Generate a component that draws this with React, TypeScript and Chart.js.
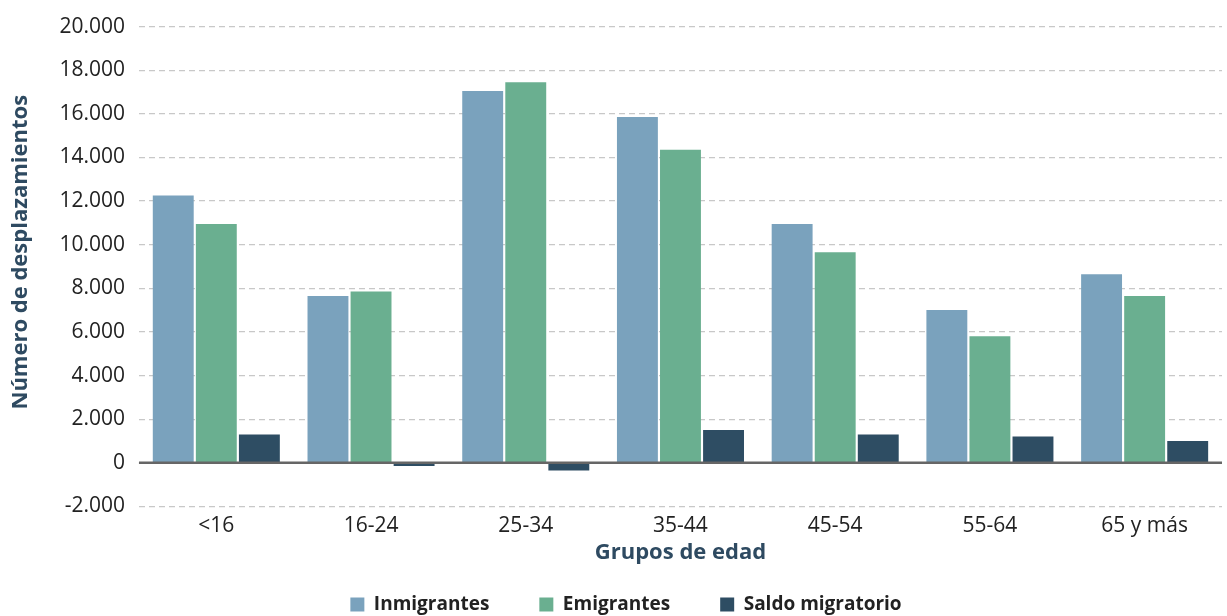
import React, { useEffect, useRef } from "react";
import { Chart, registerables } from "chart.js";

Chart.register(...registerables);

const categories = ["<16", "16-24", "25-34", "35-44", "45-54", "55-64", "65 y más"];
const inmigrantes = [12250, 7650, 17050, 15850, 10950, 7000, 8650];
const emigrantes = [10950, 7850, 17450, 14350, 9650, 5800, 7650];
const saldo = [1300, -150, -350, 1500, 1300, 1200, 1000];
const seriesNames = ["Inmigrantes", "Emigrantes", "Saldo migratorio"];
const yTicks = [-2000, 0, 2000, 4000, 6000, 8000, 10000, 12000, 14000, 16000, 18000, 20000];

const COLORS = ["#7aa2bd", "#6aaf90", "#2e4d63"];
const TITLE_COLOR = "#2e4a61";
const FONT = "'Open Sans', sans-serif";

const zeroLine = {
  id: "zeroLine",
  afterDatasetsDraw(chart: any) {
    const y = chart.scales.y.getPixelForValue(0);
    const { left, right } = chart.chartArea;
    const ctx = chart.ctx;
    ctx.save();
    ctx.strokeStyle = "#666666";
    ctx.lineWidth = 2.5;
    ctx.beginPath();
    ctx.moveTo(left, y);
    ctx.lineTo(right, y);
    ctx.stroke();
    ctx.restore();
  },
};

const legendShift = {
  id: "legendShift",
  afterUpdate(chart: any) {
    const lg = chart.legend;
    if (lg) {
      lg.left += 11;
      lg.right += 11;
    }
  },
};

const fmt = (v: number) => v.toLocaleString("de-DE");

export default function App() {
  const ref = useRef<HTMLCanvasElement>(null);
  useEffect(() => {
    const data = [inmigrantes, emigrantes, saldo];
    const chart = new Chart(ref.current!, {
      type: "bar",
      data: {
        labels: categories,
        datasets: data.map((d, i) => ({
          label: seriesNames[i],
          data: d,
          backgroundColor: COLORS[i],
          borderWidth: 0,
          barPercentage: 0.95,
          categoryPercentage: 0.835,
        })),
      },
      options: {
        animation: false,
        responsive: true,
        maintainAspectRatio: false,
        layout: { padding: { left: 8, right: 5, top: 7, bottom: 0 } },
        plugins: {
          tooltip: { enabled: false },
          legend: {
            position: "bottom",
            labels: {
              boxWidth: 14,
              boxHeight: 14,
              padding: 50,
              color: "#222",
              font: { family: FONT, size: 19, weight: "bold" },
            },
          },
        },
        scales: {
          x: {
            grid: { display: false, drawTicks: false },
            border: { display: false },
            ticks: {
              color: "#222",
              padding: 7,
              font: { family: FONT, size: 21 },
            },
            title: {
              display: true,
              text: "Grupos de edad",
              color: TITLE_COLOR,
              padding: { top: -6, bottom: -21 },
              font: { family: FONT, size: 22, weight: "bold" },
            },
          },
          y: {
            min: -2000,
            max: 20000,
            afterBuildTicks: (axis: any) => {
              axis.ticks = yTicks.map((v) => ({ value: v }));
            },
            grid: { color: "#c8c8c8", lineWidth: 1.2, drawTicks: false },
            border: { display: false, dash: [6, 4] },
            ticks: {
              color: "#222",
              padding: 14,
              font: { family: FONT, size: 21 },
              callback: (v: any) => fmt(Number(v)),
            },
            title: {
              display: true,
              text: "     Número de desplazamientos",
              color: TITLE_COLOR,
              padding: { top: 0, bottom: 11 },
              font: { family: FONT, size: 22, weight: "bold" },
            },
          },
        },
      },
      plugins: [zeroLine, legendShift],
    });
    return () => chart.destroy();
  }, []);
  return (
    <div style={{ position: "absolute", left: 0, top: 0, width: 1227, height: 616, overflow: "hidden", background: "#fff" }}>
      <div style={{ position: "relative", width: 1227, height: 624 }}>
        <canvas ref={ref} />
      </div>
    </div>
  );
}
